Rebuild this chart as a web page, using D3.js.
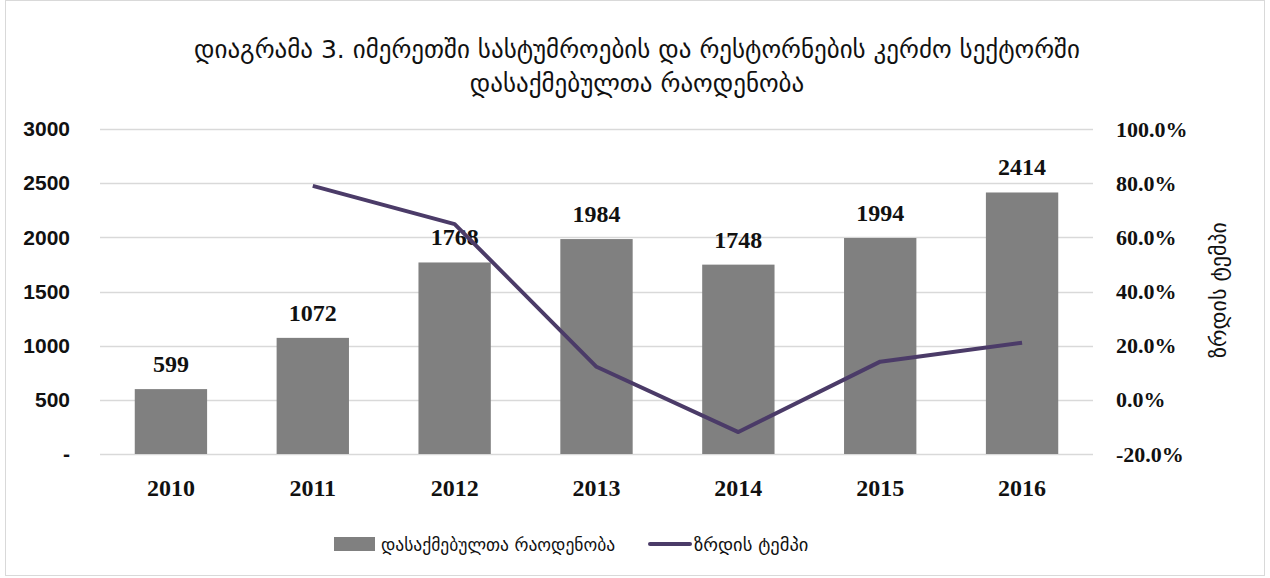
<!DOCTYPE html>
<html>
<head>
<meta charset="utf-8">
<script src="https://cdn.jsdelivr.net/npm/d3@7"></script>
<style>
  body { margin: 0; background: #fff; }
  svg { display: block; }
</style>
</head>
<body>
<svg id="chart"></svg>
<script>
const years = ["2010", "2011", "2012", "2013", "2014", "2015", "2016"];
const employed = [599, 1072, 1768, 1984, 1748, 1994, 2414];
const growth = [null, 79.0, 64.9, 12.2, -11.9, 14.1, 21.1];
const leftTicks = [0, 500, 1000, 1500, 2000, 2500, 3000];
const rightTicks = [-20, 0, 20, 40, 60, 80, 100];

const titleLines = ["დიაგრამა 3. იმერეთში სასტუმროების და რესტორნების კერძო სექტორში", "დასაქმებულთა რაოდენობა"];
const barName = "დასაქმებულთა რაოდენობა";
const lineName = "ზრდის ტემპი";

const W = 1270, H = 578;
const svg = d3.select("#chart").attr("width", W).attr("height", H);

const serif = "'Liberation Serif', 'DejaVu Serif', serif";
const geo = "'DejaVu Sans', sans-serif";

svg.append("rect")
  .attr("x", 5.5).attr("y", 0.5)
  .attr("width", W - 11).attr("height", H - 3)
  .attr("fill", "#fff").attr("stroke", "#d9d9d9");

const plotL = 100, plotR = 1093, plotT = 129, plotB = 454;

const x = d3.scaleBand().domain(years).range([plotL, plotR]).paddingInner(0.49).paddingOuter(0.245);
const y = d3.scaleLinear().domain([0, 3000]).range([plotB, plotT]);
const y2 = d3.scaleLinear().domain([-20, 100]).range([plotB, plotT]);

// title
svg.append("g").selectAll("text")
  .data(titleLines)
  .enter().append("text")
  .attr("x", 637).attr("y", (d, i) => 58 + i * 34)
  .attr("text-anchor", "middle")
  .attr("font-family", geo).attr("font-size", 25)
  .attr("fill", "#111")
  .text(d => d);

// gridlines
svg.append("g").selectAll("line")
  .data(leftTicks)
  .enter().append("line")
  .attr("x1", plotL).attr("x2", plotR)
  .attr("y1", d => Math.round(y(d)) + 0.5).attr("y2", d => Math.round(y(d)) + 0.5)
  .attr("stroke", "#d9d9d9").attr("stroke-width", 1.5);

// left axis
const yAxis = svg.append("g")
  .attr("transform", `translate(${plotL - 30},0)`)
  .call(d3.axisLeft(y).tickValues(leftTicks).tickSize(0).tickPadding(0)
    .tickFormat(d => d === 0 ? "-" : d));
yAxis.select(".domain").remove();
yAxis.selectAll("text")
  .attr("font-family", "'Liberation Sans', Arial, sans-serif").attr("font-size", 21)
  .attr("font-weight", "bold")
  .attr("fill", "#111");

// right axis
const y2Axis = svg.append("g")
  .attr("transform", `translate(${plotR + 23},0)`)
  .call(d3.axisRight(y2).tickValues(rightTicks).tickSize(0).tickPadding(0)
    .tickFormat(d => d.toFixed(1) + "%"));
y2Axis.select(".domain").remove();
y2Axis.selectAll("text")
  .attr("font-family", serif).attr("font-size", 22).attr("font-weight", "bold")
  .attr("fill", "#111");

svg.append("text")
  .attr("transform", "translate(1226,290) rotate(-90)")
  .attr("text-anchor", "middle")
  .attr("font-family", geo).attr("font-size", 22)
  .attr("fill", "#111")
  .text(lineName);

// x axis labels
const xAxis = svg.append("g")
  .attr("transform", `translate(0,${plotB + 25})`)
  .call(d3.axisBottom(x).tickSize(0).tickPadding(0));
xAxis.select(".domain").remove();
xAxis.selectAll("text")
  .attr("font-family", serif).attr("font-size", 24).attr("font-weight", "bold")
  .attr("fill", "#111");

// bars
svg.append("g").selectAll("rect")
  .data(employed)
  .enter().append("rect")
  .attr("x", (d, i) => x(years[i]))
  .attr("y", d => y(d))
  .attr("width", x.bandwidth())
  .attr("height", d => plotB - y(d))
  .attr("fill", "#808080");

// bar labels
svg.append("g").selectAll("text")
  .data(employed)
  .enter().append("text")
  .attr("x", (d, i) => x(years[i]) + x.bandwidth() / 2)
  .attr("y", d => y(d) - 17)
  .attr("text-anchor", "middle")
  .attr("font-family", serif).attr("font-size", 24).attr("font-weight", "bold")
  .attr("fill", "#111")
  .text(d => d);

// growth line
const line = d3.line()
  .defined(d => d != null)
  .x((d, i) => x(years[i]) + x.bandwidth() / 2)
  .y(d => y2(d));
svg.append("path")
  .datum(growth)
  .attr("d", line)
  .attr("fill", "none")
  .attr("stroke", "#4b3b68")
  .attr("stroke-width", 4)
  .attr("stroke-linejoin", "round");

// legend
const lg = svg.append("g").attr("transform", "translate(0,544)");
lg.append("rect").attr("x", 334).attr("y", -7).attr("width", 41).attr("height", 14).attr("fill", "#808080");
lg.append("text").attr("x", 381).attr("y", 7)
  .attr("font-family", geo).attr("font-size", 17.5).attr("fill", "#111").text(barName);
lg.append("line").attr("x1", 650).attr("x2", 690).attr("y1", 0).attr("y2", 0)
  .attr("stroke", "#4b3b68").attr("stroke-width", 4).attr("stroke-linecap", "round");
lg.append("text").attr("x", 694).attr("y", 7)
  .attr("font-family", geo).attr("font-size", 18.5).attr("fill", "#111").text(lineName);
</script>
</body>
</html>
